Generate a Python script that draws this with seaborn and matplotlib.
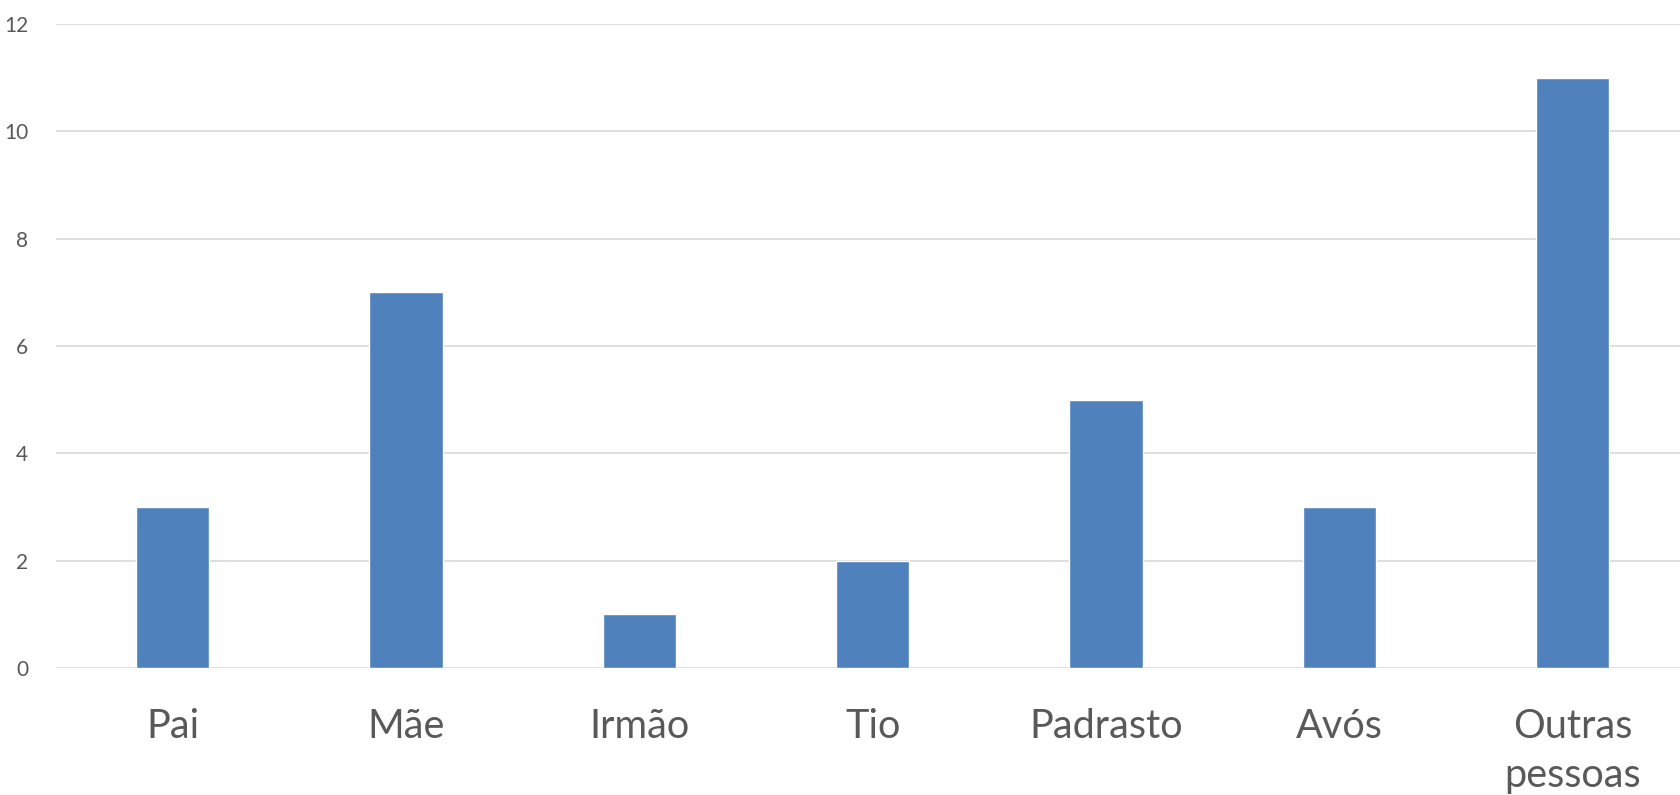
import matplotlib
matplotlib.use("Agg")
import matplotlib.pyplot as plt
import pandas as pd
import seaborn as sns

categorias = ["Pai", "Mãe", "Irmão", "Tio", "Padrasto", "Avós", "Outras\npessoas"]
valores = [3, 7, 1, 2, 5, 3, 11]
y_ticks = [0, 2, 4, 6, 8, 10, 12]

sns.set_style("white")
plt.rcParams['font.family'] = ['Lato', 'DejaVu Sans']

dados = pd.DataFrame({"categoria": categorias, "valor": valores})

fig = plt.figure(figsize=(16.8, 7.95), dpi=100)
ax = fig.add_axes([56 / 1680, (795 - 668) / 795, 1 - 56 / 1680, (668 - 24) / 795])

sns.barplot(data=dados, x="categoria", y="valor", color="#4F81BD", width=0.315,
            saturation=1, ax=ax, zorder=3)

ax.set_ylim(0, 12)
ax.set_xlim(-0.5, 6.46)
ax.set_yticks(y_ticks)
ax.set_yticklabels([str(t) for t in y_ticks])
ax.yaxis.grid(True, color="#D9D9D9", linewidth=1.2, zorder=0)
ax.set_axisbelow(True)
for s in ax.spines.values():
    s.set_visible(False)
ax.tick_params(axis="y", length=0, pad=20, labelsize=15, labelcolor="#595959")
ax.tick_params(axis="x", length=0, pad=29, labelsize=28.5, labelcolor="#595959")
for lab in ax.get_xticklabels():
    lab.set_linespacing(1.4)
ax.set_xlabel("")
ax.set_ylabel("")

plt.savefig("out.png", dpi=100)
